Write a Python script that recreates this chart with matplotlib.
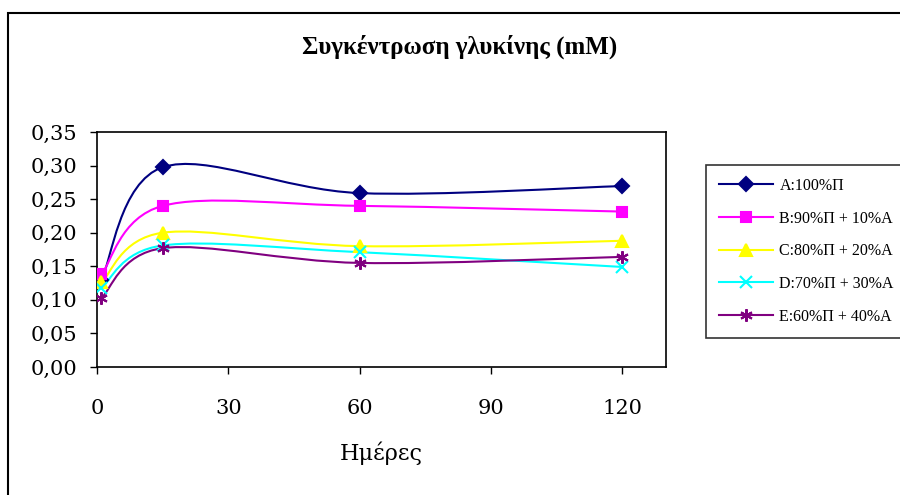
import matplotlib.pyplot as plt
from matplotlib.path import Path
from matplotlib.patches import PathPatch, Rectangle
from matplotlib.lines import Line2D
from matplotlib.ticker import FuncFormatter, MultipleLocator

# Days of sampling
days = [1, 15, 60, 120]

# Glycine concentration (mM) for each mix
conc_a = [0.130, 0.2975, 0.259, 0.2695]
conc_b = [0.138, 0.240, 0.240, 0.2315]
conc_c = [0.126, 0.200, 0.180, 0.188]
conc_d = [0.118, 0.181, 0.171, 0.149]
conc_e = [0.103, 0.177, 0.155, 0.164]

labels = ['A:100%\u03a0', 'B:90%\u03a0 + 10%A', 'C:80%\u03a0 + 20%A',
          'D:70%\u03a0 + 30%A', 'E:60%\u03a0 + 40%A']
colors = ['#000080', '#ff00ff', '#ffff00', '#00ffff', '#800080']
markers = ['D', 's', '^', 'x', (6, 2, 0)]
msizes = [7, 7, 8.5, 8, 9]


def smooth_path(xs, ys):
    # Bezier path through the points, like a spreadsheet "smoothed line"
    pts = list(zip(xs, ys))
    n = len(pts)
    verts = [pts[0]]
    codes = [Path.MOVETO]
    for i in range(n - 1):
        p0 = pts[i - 1] if i > 0 else pts[i]
        p1 = pts[i]
        p2 = pts[i + 1]
        p3 = pts[i + 2] if i + 2 < n else pts[i + 1]
        c1 = (p1[0] + (p2[0] - p0[0]) / 6.0, p1[1] + (p2[1] - p0[1]) / 6.0)
        c2 = (p2[0] - (p3[0] - p1[0]) / 6.0, p2[1] - (p3[1] - p1[1]) / 6.0)
        verts += [c1, c2, p2]
        codes += [Path.CURVE4, Path.CURVE4, Path.CURVE4]
    return Path(verts, codes)


fig = plt.figure(figsize=(9, 4.95), dpi=100)
fig.patch.set_facecolor('white')

# chart area border
fig.patches.append(Rectangle((8 / 900, -0.05), 1.05, 1 - 13 / 495 + 0.05,
                             transform=fig.transFigure, fill=False,
                             edgecolor='black', linewidth=1.5))

ax = fig.add_axes([97 / 900, 1 - 367 / 495, (666 - 97) / 900, (367 - 132) / 495])

series = [conc_a, conc_b, conc_c, conc_d, conc_e]
handles = []
for vals, lab, col, mk, ms in zip(series, labels, colors, markers, msizes):
    ax.add_patch(PathPatch(smooth_path(days, vals), facecolor='none',
                           edgecolor=col, linewidth=1.5, zorder=2))
    ax.plot(days, vals, linestyle='none', marker=mk, markersize=ms,
            color=col, markeredgecolor=col, markeredgewidth=1.5, zorder=3)
    handles.append(Line2D([], [], color=col, linewidth=1.5, marker=mk,
                          markersize=ms, markeredgewidth=1.5, label=lab))

ax.set_xlim(0, 130)
ax.set_ylim(0, 0.35)
ax.xaxis.set_major_locator(MultipleLocator(30))
ax.yaxis.set_major_locator(MultipleLocator(0.05))
ax.yaxis.set_major_formatter(FuncFormatter(lambda v, p: ('%.2f' % v).replace('.', ',')))
ax.tick_params(direction='out', length=5, width=1, color='black')
ax.tick_params(axis='x', pad=18)
ax.tick_params(axis='y', pad=9)
for lab in ax.get_xticklabels() + ax.get_yticklabels():
    lab.set_fontfamily('DejaVu Serif')
    lab.set_fontsize(15)
for sp in ax.spines.values():
    sp.set_color('black')
    sp.set_linewidth(1.2)

ax.set_xlabel('\u0397\u03bc\u03ad\u03c1\u03b5\u03c2', fontfamily='DejaVu Serif',
              fontsize=16, labelpad=17)

fig.text(460 / 900, 1 - 47 / 495,
         '\u03a3\u03c5\u03b3\u03ba\u03ad\u03bd\u03c4\u03c1\u03c9\u03c3\u03b7 '
         '\u03b3\u03bb\u03c5\u03ba\u03af\u03bd\u03b7\u03c2 (mM)',
         ha='center', va='center', fontfamily='Liberation Serif',
         fontweight='bold', fontsize=18)

leg = fig.legend(handles=handles, loc='upper left',
                 bbox_to_anchor=(706 / 900, 1 - 165 / 495),
                 borderaxespad=0, frameon=True, fancybox=False,
                 handlelength=3.4, borderpad=0.8, labelspacing=1.05,
                 handletextpad=0.4,
                 prop={'family': 'Liberation Serif', 'size': 11.5})
leg.get_frame().set_edgecolor('black')
leg.get_frame().set_linewidth(1.2)

fig.savefig('out.png', dpi=100)
